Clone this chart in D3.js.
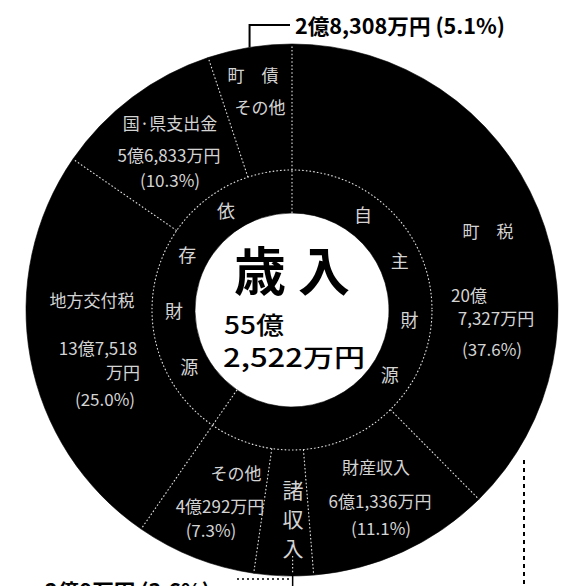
<!DOCTYPE html>
<html><head><meta charset="utf-8">
<script src="https://cdn.jsdelivr.net/npm/d3@7"></script>
<style>
html,body{margin:0;padding:0;background:#fff;}
svg{display:block;}
text{font-family:"Noto Sans CJK JP","Noto Sans",sans-serif;}
</style></head><body>
<svg id="c" width="572" height="586"></svg>
<script>
// ---- data ----
const categories = ["町税","財産収入","諸収入","その他","地方交付税","国・県支出金","町債その他"];
const amounts    = ["20億7,327万円","6億1,336万円","2億9万円","4億292万円","13億7,518万円","5億6,833万円","2億8,308万円"];
const percents   = [37.6, 11.1, 3.6, 7.3, 25.0, 10.3, 5.1];
const groupOf    = [0, 0, 0, 0, 1, 1, 1];
const groups     = ["自主財源","依存財源"];
const titleText  = "歳 入";
const totalLines = ["55億","2,522万円"];

// ---- layout ----
const W = 572, H = 586;
const cx = 292, cy = 310, R = 266, rMid = 140, rIn = 97;
const pct = p => `(${d3.format(".1f")(p)}%)`;
const splitOku = a => { const k = a.indexOf("億"); return [a.slice(0,k+1), a.slice(k+1)]; };

const svg = d3.select("#c");
const g = svg.append("g").attr("transform", `translate(${cx},${cy})`);

const pie = d3.pie().sort(null).value(d => d).startAngle(0).endAngle(2*Math.PI);
const segs = pie(percents);
const groupVals = groups.map((_, gi) => d3.sum(percents.filter((_, i) => groupOf[i] === gi)));
const gsegs = pie(groupVals);

const outerArc = d3.arc().innerRadius(rMid).outerRadius(R);
const innerArc = d3.arc().innerRadius(rIn).outerRadius(rMid);

g.selectAll("path.o").data(segs).join("path").attr("class","o")
  .attr("d", outerArc).attr("fill", "#000").attr("stroke","#000").attr("stroke-width",0.6);
g.selectAll("path.i").data(gsegs).join("path").attr("class","i")
  .attr("d", innerArc).attr("fill", "#000").attr("stroke","#000").attr("stroke-width",0.6);

const pt = (a, r) => [r*Math.sin(a), -r*Math.cos(a)];
const dotted = sel => sel.attr("stroke","#e6e6e6").attr("stroke-width",1.1).attr("stroke-dasharray","1.5 2.2").attr("fill","none");

// segment boundaries
segs.forEach(s => {
  const a = pt(s.startAngle, rMid), b = pt(s.startAngle, R - 2);
  dotted(g.append("line").attr("x1",a[0]).attr("y1",a[1]).attr("x2",b[0]).attr("y2",b[1]));
});
gsegs.forEach(s => {
  const a = pt(s.startAngle, rIn), b = pt(s.startAngle, rMid);
  dotted(g.append("line").attr("x1",a[0]).attr("y1",a[1]).attr("x2",b[0]).attr("y2",b[1]));
});
dotted(g.append("circle").attr("r", rMid));

// inner ring characters
const innerCharLayout = [ {start:37, step:29}, {start:326, step:-28.5} ];
groups.forEach((name, gi) => {
  const L = innerCharLayout[gi];
  [...name].forEach((ch, k) => {
    const a = (L.start + k*L.step) * Math.PI/180;
    const p = pt(a, 118);
    g.append("text").attr("x", p[0]).attr("y", p[1]).attr("dy","0.35em")
      .attr("text-anchor","middle").attr("font-size",18).attr("fill","#d4d4d4").text(ch);
  });
});

// segment labels (absolute positions)
const labelLayout = [
  {i:0, lines: i => ["町　税", ...splitOku(amounts[i]), pct(percents[i])],
        pts: [[488,232],[469,296],[496,319],[492,350]]},
  {i:1, lines: i => [categories[i], amounts[i], pct(percents[i])],
        pts: [[376,468],[380,502],[381,529]]},
  {i:2, lines: i => [...categories[i]], pts: [[293,491],[293,520],[293,549]], size:21},
  {i:3, lines: i => [categories[i], amounts[i], pct(percents[i])],
        pts: [[236,474],[220,507],[211,531]]},
  {i:4, lines: i => [categories[i], amounts[i].replace("万円",""), "万円", pct(percents[i])],
        pts: [[92,301],[98,349],[123,373],[105,400]]},
  {i:5, lines: i => [categories[i].replace("・","·"), amounts[i], pct(percents[i])],
        pts: [[170,124],[169,156],[170,181]]},
  {i:6, lines: i => ["町　債", categories[i].slice(2)],
        pts: [[253,76],[260,108]]},
];
labelLayout.forEach(L => {
  const lines = L.lines(L.i);
  lines.forEach((t, k) => {
    svg.append("text").attr("x", L.pts[k][0]).attr("y", L.pts[k][1]).attr("dy","0.35em")
      .attr("text-anchor","middle").attr("font-size", L.size || 17)
      .attr("fill","#d4d4d4").text(t);
  });
});

// center text
svg.append("text").attr("x", cx).attr("y", 291).attr("text-anchor","middle")
  .attr("font-size",52).attr("font-weight",700).attr("fill","#000").text(titleText);
svg.append("text").attr("x", 224).attr("y", 334).attr("font-size",24).attr("font-weight",500)
  .attr("textLength",60).attr("lengthAdjust","spacingAndGlyphs").attr("fill","#000").text(totalLines[0]);
svg.append("text").attr("x", 223).attr("y", 367).attr("font-size",25).attr("font-weight",500)
  .attr("textLength",142).attr("lengthAdjust","spacingAndGlyphs").attr("fill","#000").text(totalLines[1]);

// external label: 町債その他 (top)
{
  const s = segs[6], a = (s.startAngle + s.endAngle)/2;
  const p = pt(a, R);
  const x0 = cx + p[0], y0 = cy + p[1];
  svg.append("path").attr("d", `M${x0},${y0} V25 H290`).attr("fill","none")
    .attr("stroke","#000").attr("stroke-width",2);
  svg.append("text").attr("x", 295).attr("y", 34).attr("font-size",21).attr("font-weight",700)
    .attr("textLength",210).attr("lengthAdjust","spacingAndGlyphs")
    .attr("fill","#000").text(`${amounts[6]} ${pct(percents[6])}`);
}
// external label: 諸収入 (bottom, cut by the edge as in the reference)
{
  const s = segs[2], a = (s.startAngle + s.endAngle)/2;
  const p = pt(a, R);
  const x0 = cx + p[0] + 9;
  dotted(svg.append("line").attr("x1",x0).attr("x2",x0).attr("y1",cy + R - 20).attr("y2",cy + R - 2));
  svg.append("line").attr("x1",x0).attr("x2",x0).attr("y1",cy + R - 2).attr("y2",H)
    .attr("stroke","#000").attr("stroke-width",1.5);
  svg.append("line").attr("x1",237).attr("x2",x0).attr("y1",579).attr("y2",579)
    .attr("stroke","#000").attr("stroke-width",1.5).attr("stroke-dasharray","2 3");
  svg.append("text").attr("x", 45).attr("y", 599).attr("font-size",21).attr("font-weight",700)
    .attr("textLength",165).attr("lengthAdjust","spacingAndGlyphs")
    .attr("fill","#000").text(`${amounts[2]} ${pct(percents[2])}`);
}
// right dashed guide
svg.append("line").attr("x1",524).attr("x2",524).attr("y1",460).attr("y2",H)
  .attr("stroke","#000").attr("stroke-width",2).attr("stroke-dasharray","4 4");
</script>
</body></html>
